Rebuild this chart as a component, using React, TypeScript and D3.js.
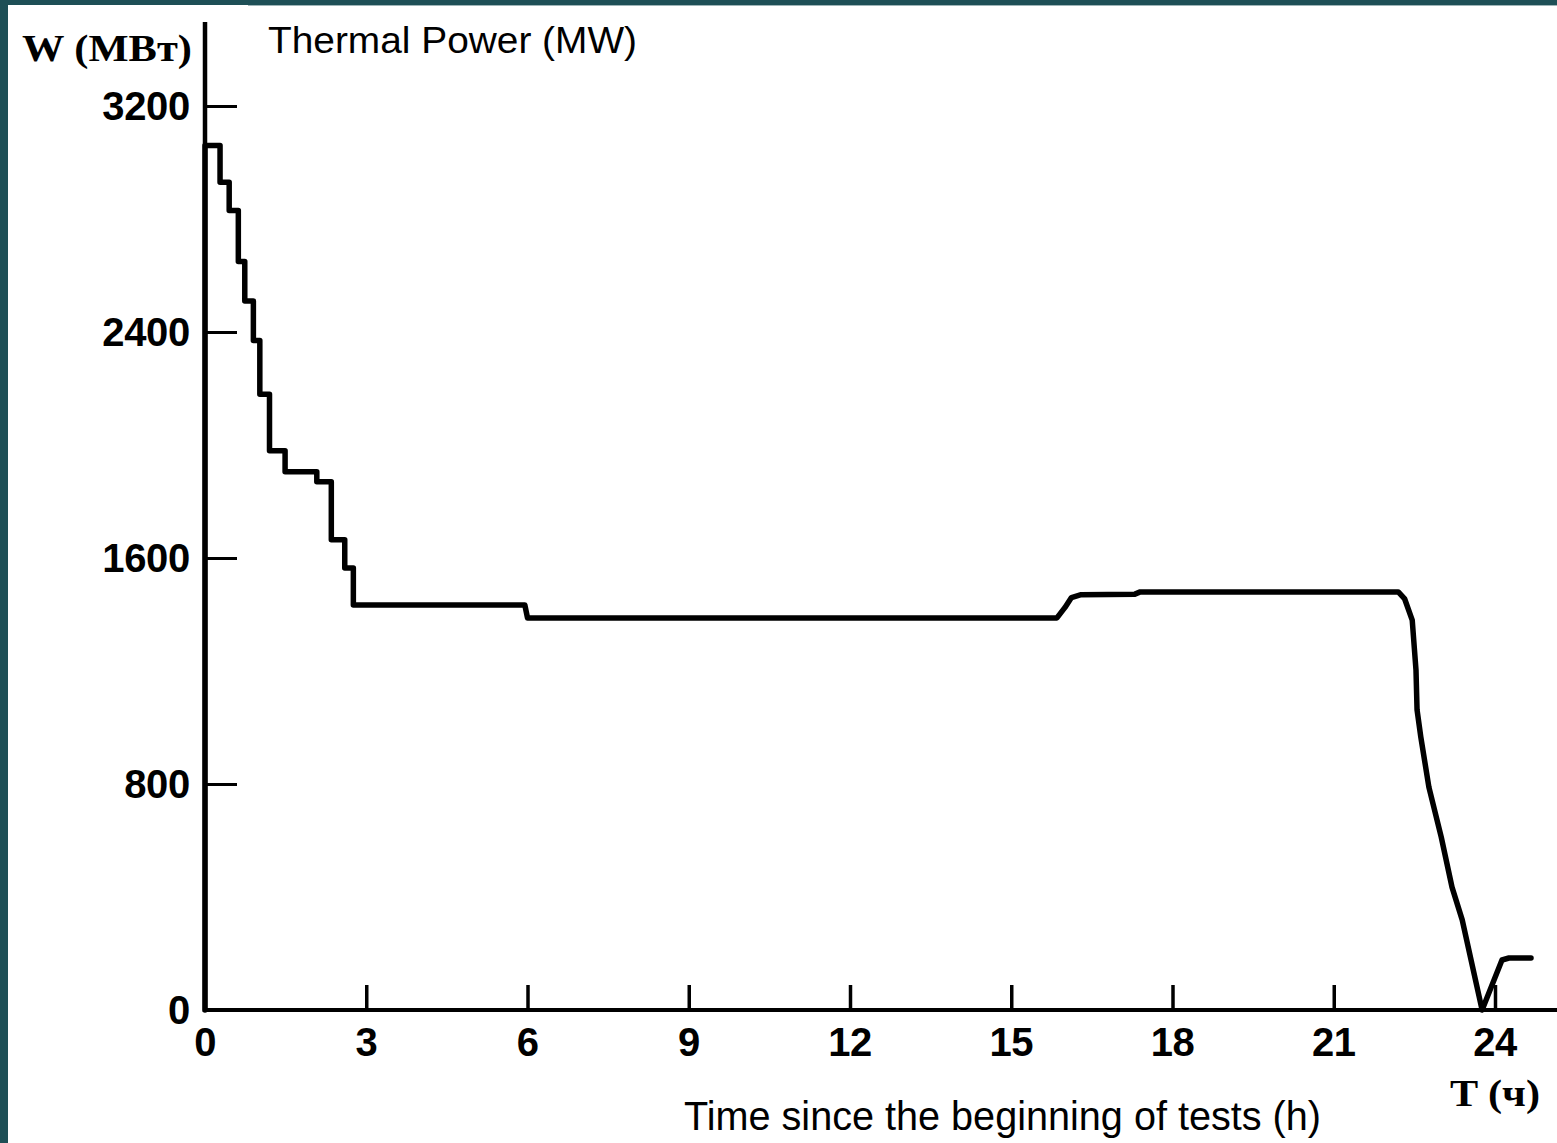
import React, { useEffect, useRef } from 'react';
import * as d3 from 'd3';

// values (hours since start, MW)
const hours = [
  0, 0, 0.28, 0.28, 0.45, 0.45, 0.62, 0.62, 0.74, 0.74, 0.9, 0.9, 1.02, 1.02, 1.2, 1.2,
  1.49, 1.49, 2.08, 2.08, 2.35, 2.35, 2.6, 2.6, 2.76, 2.76, 5.95, 6.0, 15.85, 16.0,
  16.12, 16.3, 17.3, 17.4, 22.2, 22.32, 22.46, 22.53, 22.55, 22.62, 22.77, 23.0, 23.2,
  23.39, 23.76, 24.13, 24.26, 24.67
];
const power = [
  0, 3060, 3060, 2930, 2930, 2830, 2830, 2650, 2650, 2510, 2510, 2370, 2370, 2180, 2180, 1980,
  1980, 1905, 1905, 1870, 1870, 1665, 1665, 1565, 1565, 1434, 1434, 1388, 1388, 1425,
  1460, 1470, 1472, 1480, 1480, 1455, 1380, 1204, 1062, 966, 789, 612, 435,
  319, 0, 177, 184, 184
];
const xTicks = [3, 6, 9, 12, 15, 18, 21, 24];
const xLabels = [0, 3, 6, 9, 12, 15, 18, 21, 24];
const yTicks = [800, 1600, 2400, 3200];
const yLabels = [0, 800, 1600, 2400, 3200];

const W = 1557;
const H = 1143;

export default function App() {
  const ref = useRef<SVGSVGElement>(null);

  useEffect(() => {
    const svg = d3.select(ref.current);
    svg.selectAll('*').remove();

    const x = d3.scaleLinear().domain([0, 24]).range([205, 1495]);
    const y = d3.scaleLinear().domain([0, 3200]).range([1010, 106]);

    // slide frame
    svg.append('rect').attr('width', W).attr('height', H).attr('fill', '#1e4f56');
    svg.append('rect').attr('x', 8).attr('y', 5).attr('width', W - 8).attr('height', H - 5).attr('fill', '#fff');
    svg.append('line').attr('x1', 248).attr('x2', W).attr('y1', 5.5).attr('y2', 5.5)
      .attr('stroke', '#9fb5b8').attr('stroke-width', 1);

    const g = svg.append('g');

    // axis lines
    g.append('line').attr('x1', x(0)).attr('x2', x(0)).attr('y1', 22).attr('y2', y(0) + 2)
      .attr('stroke', '#000').attr('stroke-width', 4.5);
    g.append('line').attr('x1', x(0) - 2).attr('x2', W).attr('y1', y(0)).attr('y2', y(0))
      .attr('stroke', '#000').attr('stroke-width', 4);

    // tick marks
    const yAxis = d3.axisLeft(y).tickValues(yTicks).tickSizeInner(-32).tickSizeOuter(0).tickFormat(() => '');
    const ya = g.append('g').attr('transform', `translate(${x(0)},0)`).call(yAxis);
    ya.select('.domain').remove();
    ya.selectAll('line').attr('stroke', '#000').attr('stroke-width', 3);

    const xAxis = d3.axisBottom(x).tickValues(xTicks).tickSizeInner(-25).tickSizeOuter(0).tickFormat(() => '');
    const xa = g.append('g').attr('transform', `translate(0,${y(0)})`).call(xAxis);
    xa.select('.domain').remove();
    xa.selectAll('line').attr('stroke', '#000').attr('stroke-width', 3.5);

    // tick labels
    g.selectAll('text.ylab')
      .data(yLabels)
      .join('text')
      .attr('class', 'ylab')
      .attr('x', 190)
      .attr('y', (d) => y(d))
      .attr('dy', '0.36em')
      .attr('text-anchor', 'end')
      .attr('font-family', 'Liberation Sans, Arial, sans-serif')
      .attr('font-weight', 'bold')
      .attr('font-size', 40)
      .attr('letter-spacing', -0.3)
      .text((d) => d);

    g.selectAll('text.xlab')
      .data(xLabels)
      .join('text')
      .attr('class', 'xlab')
      .attr('x', (d) => x(d))
      .attr('y', 1056)
      .attr('text-anchor', 'middle')
      .attr('font-family', 'Liberation Sans, Arial, sans-serif')
      .attr('font-weight', 'bold')
      .attr('font-size', 40)
      .attr('letter-spacing', -0.5)
      .text((d) => d);

    // curve
    const line = d3
      .line<number>()
      .x((d, i) => x(hours[i]))
      .y((d) => y(d))
      .curve(d3.curveLinear);

    g.append('path')
      .datum(power)
      .attr('d', line)
      .attr('fill', 'none')
      .attr('stroke', '#000')
      .attr('stroke-width', 5.5)
      .attr('stroke-linejoin', 'round')
      .attr('stroke-linecap', 'round');

    // original russian axis captions
    g.append('text')
      .attr('x', 22).attr('y', 61)
      .attr('textLength', 170).attr('lengthAdjust', 'spacingAndGlyphs')
      .attr('font-family', 'Liberation Serif, serif')
      .attr('font-weight', 'bold')
      .attr('font-size', 38)
      .text('W (MBт)');

    g.append('text')
      .attr('x', 1450).attr('y', 1106)
      .attr('textLength', 90).attr('lengthAdjust', 'spacingAndGlyphs')
      .attr('font-family', 'Liberation Serif, serif')
      .attr('font-weight', 'bold')
      .attr('font-size', 38)
      .text('T (ч)');

    // english captions
    g.append('text')
      .attr('x', 268).attr('y', 53)
      .attr('textLength', 369).attr('lengthAdjust', 'spacingAndGlyphs')
      .attr('font-family', 'Liberation Sans, Arial, sans-serif')
      .attr('font-size', 37)
      .text('Thermal Power (MW)');

    g.append('text')
      .attr('x', 684).attr('y', 1130)
      .attr('textLength', 637).attr('lengthAdjust', 'spacingAndGlyphs')
      .attr('font-family', 'Liberation Sans, Arial, sans-serif')
      .attr('font-size', 40)
      .text('Time since the beginning of tests (h)');
  }, []);

  return (
    <svg
      ref={ref}
      width={W}
      height={H}
      viewBox={`0 0 ${W} ${H}`}
      style={{ position: 'fixed', left: 0, top: 0, display: 'block' }}
    />
  );
}
